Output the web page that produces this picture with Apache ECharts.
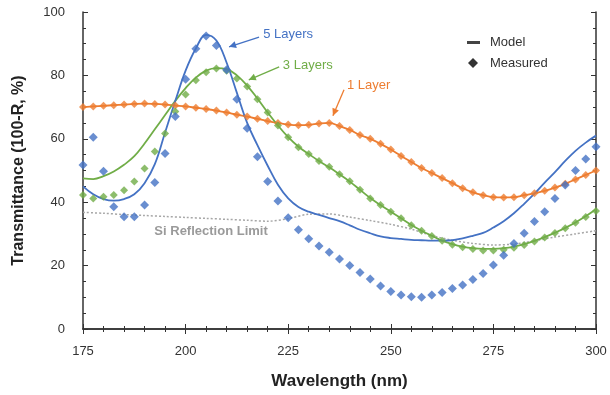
<!DOCTYPE html>
<html><head><meta charset="utf-8">
<script src="https://cdn.jsdelivr.net/npm/echarts@6/dist/echarts.min.js"></script>
<style>html,body{margin:0;padding:0;background:#fff}#c{width:610px;height:395px}</style>
</head><body><div id="c"></div>
<script>
const wavelengths = [175,177.5,180,182.5,185,187.5,190,192.5,195,197.5,200,202.5,205,207.5,210,212.5,215,217.5,220,222.5,225,227.5,230,232.5,235,237.5,240,242.5,245,247.5,250,252.5,255,257.5,260,262.5,265,267.5,270,272.5,275,277.5,280,282.5,285,287.5,290,292.5,295,297.5,300];
const blueMeasured = [51.7,60.5,49.8,38.6,35.4,35.4,39.1,46.2,55.4,67.0,78.8,88.4,92.4,89.4,81.8,72.5,63.3,54.3,46.5,40.4,35.1,31.3,28.5,26.2,24.2,22.1,20.0,17.8,15.8,13.6,11.8,10.7,10.2,10.0,10.7,11.5,12.8,13.9,15.6,17.5,20.2,23.3,27.0,30.2,33.9,37.0,41.2,45.4,50.0,53.6,57.5];
const blueModel = [45,42.5,41,40.5,41,42.5,46,52,62,72,81.5,88.5,92.8,91,84,74.5,65,58,51.5,45.5,41.2,38.5,37,36,35,34,32.7,31.3,30.2,29.2,28.7,28.4,28.1,28,27.9,27.9,28,28.6,29.4,30.3,32,34,36.5,39.5,42.7,46.2,49.5,53,56.2,58.8,61];
const greenMeasured = [42.3,41.2,41.7,42.3,43.8,46.5,50.6,56,61.7,68.6,74,78.5,81,82.2,81.5,79,76.5,72.5,68.3,64.2,60.5,57.3,55.2,53.0,51.2,48.8,46.6,43.9,41.2,39.1,37.0,34.9,32.7,31.0,29.3,27.8,26.6,25.8,25.2,24.8,24.8,25.0,25.6,26.5,27.6,28.9,30.3,31.8,33.5,35.3,37.2];
const greenModel = [47.5,47.3,48.2,49.7,51.8,54.5,58.5,63,67.5,72,76,79.3,81.5,82.3,82,80,76.8,72.7,68.3,64.2,60.5,57.5,55.2,53.0,51.0,48.8,46.5,43.9,41.3,39.1,37.0,34.9,32.8,31.0,29.4,27.9,26.8,26.0,25.5,25.3,25.3,25.5,26.0,26.8,27.8,29.0,30.4,31.9,33.6,35.6,37.8];
const orangeMeasured = [70.0,70.2,70.4,70.6,70.8,71.0,71.1,71.0,70.8,70.5,70.2,69.8,69.4,68.9,68.3,67.6,67.0,66.3,65.6,65.0,64.5,64.3,64.4,64.8,65.0,64.0,62.8,61.2,60.0,58.4,56.6,54.6,52.7,50.8,49.2,47.6,46.0,44.4,43.1,42.2,41.6,41.5,41.6,42.2,42.8,43.6,44.6,45.8,47.2,48.6,50.0];
const orangeModel = [70.0,70.2,70.4,70.6,70.8,71.0,71.1,71.0,70.8,70.5,70.2,69.8,69.4,68.9,68.3,67.6,67.0,66.3,65.6,65.0,64.5,64.3,64.4,64.8,65.0,64.0,62.8,61.2,60.0,58.4,56.6,54.6,52.7,50.8,49.2,47.6,46.0,44.4,43.1,42.2,41.6,41.5,41.6,42.2,42.8,43.6,44.6,45.8,47.2,48.6,50.0];
const siWavelengths = [175,180,185,190,195,200,205,210,215,220,225,230,235,240,245,250,255,260,265,270,275,280,285,290,295,300];
const siLimit = [36.8,36.5,36.1,35.8,35.5,35.2,34.9,34.6,34.3,34.0,34.8,36.2,36.3,35.3,34.2,33.0,31.5,29.5,28.0,27.0,26.5,26.8,27.8,29.0,30.0,31.0];
const xTicks = [175,200,225,250,275,300];
const yTicks = [0,20,40,60,80,100];

const BLUE='#4472C4', GREEN='#70AD47', ORANGE='#ED7D31', GRAY='#a6a6a6';
const FONT='Liberation Sans, Arial, sans-serif';
const pair = (xs, ys) => xs.map((x,i)=>[x, ys[i]]);

const chart = echarts.init(document.getElementById('c'), null, {renderer:'canvas'});
const axisLine = {show:true, lineStyle:{color:'#333', width:1.5}};
const xBase = {type:'value', min:xTicks[0], max:xTicks[xTicks.length-1], interval:25,
  axisLine, axisTick:{show:true, inside:true, length:5, lineStyle:{color:'#333'}},
  minorTick:{show:true, splitNumber:5, length:3, lineStyle:{color:'#333'}},
  splitLine:{show:false}, minorSplitLine:{show:false}};
const yBase = {type:'value', min:yTicks[0], max:yTicks[yTicks.length-1], interval:20,
  axisLine, axisTick:{show:true, inside:true, length:5, lineStyle:{color:'#333'}},
  minorTick:{show:true, splitNumber:4, length:3, lineStyle:{color:'#333'}},
  splitLine:{show:false}, minorSplitLine:{show:false}};

function lineSeries(name, xs, ys, color, extra){
  return Object.assign({name, type:'line', data:pair(xs,ys), smooth:0.4, showSymbol:false,
    lineStyle:{color, width:1.8}, itemStyle:{color}, z:2, silent:true}, extra||{});
}
function dotSeries(name, xs, ys, color, size){
  return {name, type:'scatter', data:pair(xs,ys), symbol:'diamond', symbolSize:size,
    itemStyle:{color}, z:3, silent:true};
}

chart.setOption({
  animation:false,
  backgroundColor:'#fff',
  grid:{left:83, right:14, top:12, bottom:65},
  xAxis:[
    Object.assign({}, xBase, {position:'bottom', name:'Wavelength (nm)', nameLocation:'middle', nameGap:44,
      nameTextStyle:{fontFamily:FONT, fontSize:17, fontWeight:'bold', color:'#222'},
      axisLabel:{fontFamily:FONT, fontSize:13, color:'#333', margin:16}}),
    Object.assign({}, xBase, {position:'top', axisLabel:{show:false}})
  ],
  yAxis:[
    Object.assign({}, yBase, {position:'left', name:'Transmittance (100-R, %)', nameLocation:'middle', nameGap:56,
      nameTextStyle:{fontFamily:FONT, fontSize:16, fontWeight:'bold', color:'#222'},
      axisLabel:{fontFamily:FONT, fontSize:13, color:'#333', margin:18}}),
    Object.assign({}, yBase, {position:'right', axisLabel:{show:false}})
  ],
  series:[
    lineSeries('Si Reflection Limit', siWavelengths, siLimit, GRAY, {smooth:0.3, lineStyle:{color:GRAY, width:1.5, type:[2,2]}, z:1}),
    lineSeries('1 Layer Model', wavelengths, orangeModel, ORANGE),
    lineSeries('3 Layers Model', wavelengths, greenModel, GREEN),
    lineSeries('5 Layers Model', wavelengths, blueModel, BLUE),
    dotSeries('1 Layer Measured', wavelengths, orangeMeasured, ORANGE, 8),
    dotSeries('3 Layers Measured', wavelengths, greenMeasured, GREEN, 8),
    dotSeries('5 Layers Measured', wavelengths, blueMeasured, BLUE, 9)
  ]
});

// annotations in data coordinates
const annotations = [
  {text:'5 Layers', color:BLUE, at:[218.9,92.8], from:[217.9,92.1], to:[210.6,89.0]},
  {text:'3 Layers', color:GREEN, at:[223.7,83.3], from:[222.8,82.7], to:[215.4,78.6]},
  {text:'1 Layer', color:ORANGE, at:[239.3,76.7], from:[238.6,75.5], to:[235.9,67.3]}
];
const siLabel = {text:'Si Reflection Limit', at:[206.2,30.8]};

const P = v => chart.convertToPixel({xAxisIndex:0, yAxisIndex:0}, v);
const g = [];
annotations.forEach(a=>{
  const t=P(a.at), f=P(a.from), e=P(a.to);
  g.push({type:'text', x:t[0], y:t[1], style:{text:a.text, fill:a.color, font:'13px '+FONT, textAlign:'left', textVerticalAlign:'middle'}});
  g.push({type:'line', shape:{x1:f[0], y1:f[1], x2:e[0], y2:e[1]}, style:{stroke:a.color, lineWidth:1.3}});
  const ang=Math.atan2(e[1]-f[1], e[0]-f[0]), L=7, W=3.5;
  const bx=e[0]-L*Math.cos(ang), by=e[1]-L*Math.sin(ang);
  g.push({type:'polygon', shape:{points:[[e[0],e[1]],[bx-W*Math.sin(ang), by+W*Math.cos(ang)],[bx+W*Math.sin(ang), by-W*Math.cos(ang)]]}, style:{fill:a.color}});
});
const s=P(siLabel.at);
g.push({type:'text', x:s[0], y:s[1], style:{text:siLabel.text, fill:'#9a9a9a', font:'bold 13px '+FONT, textAlign:'center', textVerticalAlign:'middle'}});
// legend
g.push({type:'rect', shape:{x:467, y:41, width:13, height:3}, style:{fill:'#444'}});
g.push({type:'text', x:490, y:42, style:{text:'Model', fill:'#333', font:'13px '+FONT, textVerticalAlign:'middle'}});
g.push({type:'polygon', shape:{points:[[473,58],[478,63],[473,68],[468,63]]}, style:{fill:'#333'}});
g.push({type:'text', x:490, y:63, style:{text:'Measured', fill:'#333', font:'13px '+FONT, textVerticalAlign:'middle'}});
chart.setOption({graphic:g});
</script></body></html>
